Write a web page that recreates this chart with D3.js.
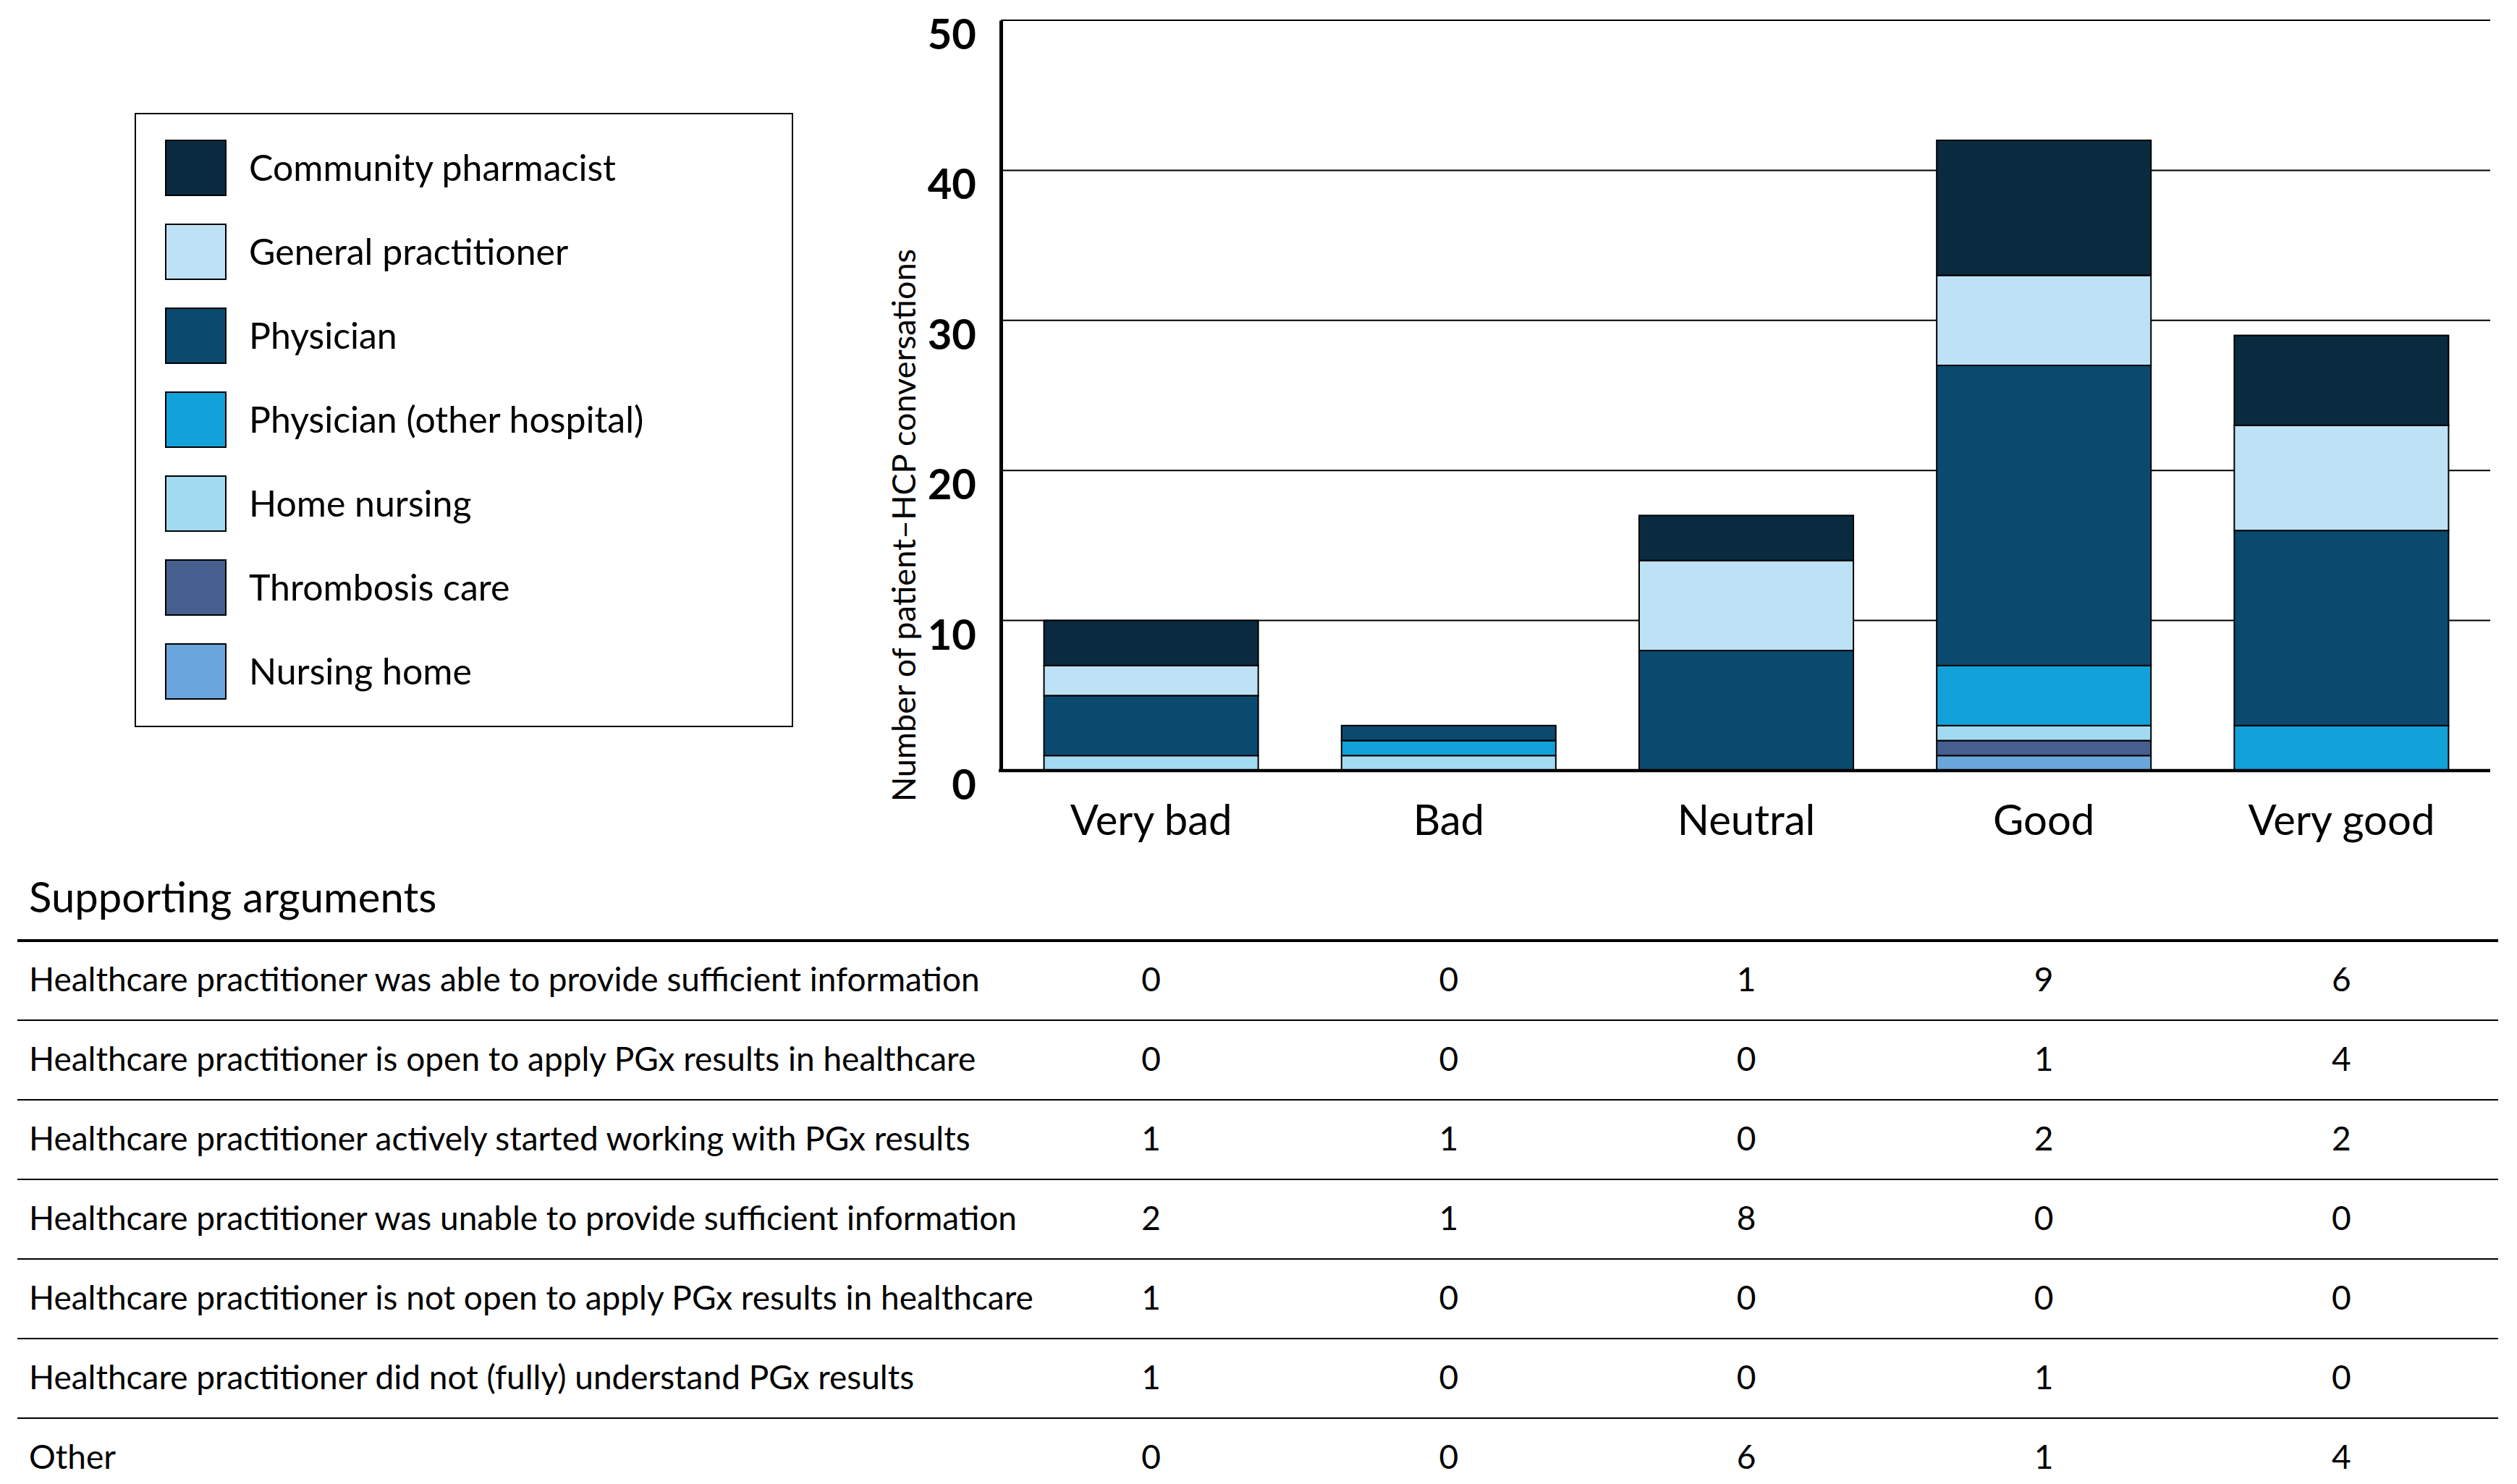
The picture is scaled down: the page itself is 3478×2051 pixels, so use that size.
<!DOCTYPE html>
<html>
<head>
<meta charset="utf-8">
<script src="https://cdn.jsdelivr.net/npm/d3@7"></script>
<style>
  body { margin: 0; background: #fff; }
  text { font-family: Lato, "Noto Sans", sans-serif; fill: #000; }
</style>
</head>
<body>
<div id="chart"></div>
<script>
// ratings on the x axis
const categories = ["Very bad", "Bad", "Neutral", "Good", "Very good"];

// healthcare providers, in legend order (top of the stack first)
const providers = ["Community pharmacist", "General practitioner", "Physician",
  "Physician (other hospital)", "Home nursing", "Thrombosis care", "Nursing home"];
const providerColors = ["#0a2b3f", "#bee2f5", "#0b4a6f", "#12a2d9", "#a2dbf1", "#465f8e", "#6aa6db"];

// conversations per provider, per rating
const communityPharmacist = [3, 0, 3, 9, 6];
const generalPractitioner = [2, 0, 6, 6, 7];
const physician = [4, 1, 8, 20, 13];
const physicianOther = [0, 1, 0, 4, 3];
const homeNursing = [1, 1, 0, 1, 0];
const thrombosisCare = [0, 0, 0, 1, 0];
const nursingHome = [0, 0, 0, 1, 0];

const yTicks = [0, 10, 20, 30, 40, 50];

// supporting arguments table
const argumentLabels = [
  "Healthcare practitioner was able to provide sufficient information",
  "Healthcare practitioner is open to apply PGx results in healthcare",
  "Healthcare practitioner actively started working with PGx results",
  "Healthcare practitioner was unable to provide sufficient information",
  "Healthcare practitioner is not open to apply PGx results in healthcare",
  "Healthcare practitioner did not (fully) understand PGx results",
  "Other"
];
const argumentCounts = [
  [0, 0, 1, 9, 6],
  [0, 0, 0, 1, 4],
  [1, 1, 0, 2, 2],
  [2, 1, 8, 0, 0],
  [1, 0, 0, 0, 0],
  [1, 0, 0, 1, 0],
  [0, 0, 6, 1, 4]
];

const W = 3478, H = 2051;
const svg = d3.select("#chart").append("svg")
  .attr("width", W).attr("height", H);
svg.append("rect").attr("width", W).attr("height", H).attr("fill", "#fff");

// build table rows for d3.stack
const seriesValues = [communityPharmacist, generalPractitioner, physician,
  physicianOther, homeNursing, thrombosisCare, nursingHome];
const rows = categories.map((c, i) => {
  const r = {category: c};
  providers.forEach((p, j) => r[p] = seriesValues[j][i]);
  return r;
});
const stack = d3.stack().keys(providers.slice().reverse());
const stacked = stack(rows);
const color = d3.scaleOrdinal().domain(providers).range(providerColors);

const plotLeft = 1383, plotRight = 3441, plotTop = 28, plotBottom = 1065;

const x = d3.scaleBand().domain(categories)
  .range([plotLeft + 2, plotRight])
  .paddingInner(0.28).paddingOuter(0.14);
const y = d3.scaleLinear().domain([0, 50]).range([plotBottom, plotTop]);

// gridlines
svg.append("g")
  .selectAll("line")
  .data(yTicks.filter(d => d > 0))
  .join("line")
  .attr("x1", plotLeft).attr("x2", plotRight)
  .attr("y1", d => y(d)).attr("y2", d => y(d))
  .attr("stroke", "#000").attr("stroke-width", 2);

// bars
svg.append("g")
  .selectAll("g")
  .data(stacked)
  .join("g")
  .attr("fill", d => color(d.key))
  .selectAll("rect")
  .data(d => d.filter(s => s[1] - s[0] > 0))
  .join("rect")
  .attr("x", d => x(d.data.category))
  .attr("width", x.bandwidth())
  .attr("y", d => y(d[1]))
  .attr("height", d => y(d[0]) - y(d[1]))
  .attr("stroke", "#000").attr("stroke-width", 2);

// y axis
const yAxis = svg.append("g")
  .attr("transform", `translate(${plotLeft},0)`)
  .call(d3.axisLeft(y).tickValues(yTicks).tickSize(0).tickPadding(34));
yAxis.select(".domain").attr("stroke", "#000").attr("stroke-width", 5);
yAxis.selectAll("text")
  .attr("font-family", "Lato, sans-serif")
  .attr("font-size", 58).attr("font-weight", 700)
  .attr("dy", "0.68em");

// x axis
const xAxis = svg.append("g")
  .attr("transform", `translate(0,${plotBottom})`)
  .call(d3.axisBottom(x).tickSize(0).tickPadding(48));
xAxis.select(".domain").attr("d", `M${plotLeft - 3},0H${plotRight}`)
  .attr("stroke", "#000").attr("stroke-width", 4.5);
xAxis.selectAll("text")
  .attr("font-family", "Lato, sans-serif")
  .attr("font-size", 58).attr("dy", "0.71em");

// y axis title
svg.append("text")
  .attr("transform", "translate(1265,726) rotate(-90)")
  .attr("text-anchor", "middle")
  .attr("font-size", 45)
  .text("Number of patient–HCP conversations");

// legend
const legend = svg.append("g");
legend.append("rect")
  .attr("x", 187).attr("y", 157).attr("width", 908).attr("height", 847)
  .attr("fill", "none").attr("stroke", "#000").attr("stroke-width", 2);
const legendY = d3.scalePoint().domain(providers).range([194, 890]);
const item = legend.selectAll("g.item")
  .data(providers)
  .join("g").attr("class", "item")
  .attr("transform", d => `translate(229,${legendY(d)})`);
item.append("rect")
  .attr("width", 83).attr("height", 76)
  .attr("fill", d => color(d)).attr("stroke", "#000").attr("stroke-width", 2);
item.append("text")
  .attr("x", 115).attr("y", 38).attr("dy", "0.36em")
  .attr("font-size", 50)
  .text(d => d);

// table
const tableLeft = 24, tableRight = 3452;
svg.append("text")
  .attr("x", 40).attr("y", 1261)
  .attr("font-size", 58)
  .text("Supporting arguments");
svg.append("line")
  .attr("x1", tableLeft).attr("x2", tableRight).attr("y1", 1300).attr("y2", 1300)
  .attr("stroke", "#000").attr("stroke-width", 4);

const rowBand = d3.scaleBand().domain(argumentLabels).range([1300, 2070]);
const tr = svg.append("g").selectAll("g")
  .data(argumentLabels)
  .join("g")
  .attr("transform", d => `translate(0,${rowBand(d)})`);
tr.filter((d, i) => i < argumentLabels.length - 1)
  .append("line")
  .attr("x1", tableLeft).attr("x2", tableRight)
  .attr("y1", rowBand.bandwidth()).attr("y2", rowBand.bandwidth())
  .attr("stroke", "#000").attr("stroke-width", 2);
tr.append("text")
  .attr("x", 40).attr("y", 70)
  .attr("font-size", 46)
  .text(d => d);
tr.selectAll("text.num")
  .data((d, i) => argumentCounts[i].map((v, k) => ({v, c: categories[k]})))
  .join("text").attr("class", "num")
  .attr("x", d => x(d.c) + x.bandwidth() / 2)
  .attr("y", 70)
  .attr("text-anchor", "middle")
  .attr("font-size", 46)
  .text(d => d.v);
</script>
</body>
</html>
